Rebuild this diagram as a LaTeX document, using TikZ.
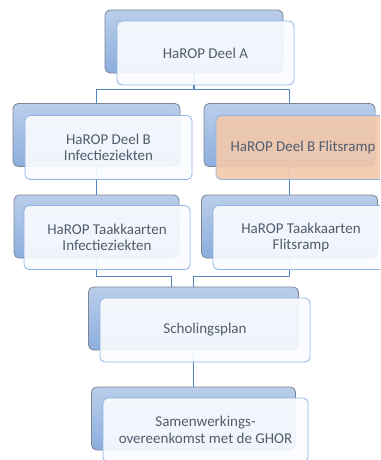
\documentclass[tikz,border=0pt]{standalone}
\usepackage{fontspec}
\setmainfont{Carlito}
\definecolor{harop_top}{RGB}{186, 206, 235}
\definecolor{harop_bottom}{RGB}{140, 174, 221}
\definecolor{harop_rim}{RGB}{125, 134, 148}
\definecolor{harop_edge}{RGB}{141, 180, 226}
\definecolor{harop_card}{RGB}{250, 252, 255}
\definecolor{harop_flash}{RGB}{243, 201, 172}
\definecolor{harop_line}{RGB}{84, 134, 196}
\definecolor{harop_text}{RGB}{82, 92, 110}
\usetikzlibrary{calc}

\begin{document}
\begin{tikzpicture}[x=1pt, y=-1pt, font=\fontsize{15}{16.5}\selectfont,
            back/.style={draw=harop_rim, line width=0.8pt, rounded corners=5pt,
                         top color=harop_top, bottom color=harop_bottom,
                         minimum height=63pt, inner sep=0pt},
            card/.style={draw=harop_edge, line width=0.8pt, rounded corners=5pt,
                         fill=harop_card, fill opacity=0.91, text opacity=1,
                         text=harop_text, align=center,
                         minimum height=64pt, inner sep=0pt},
            link/.style={draw=harop_line, line width=1.5pt}]
            \useasboundingbox (0,0) rectangle (380,460);
            \clip (0,0) rectangle (380,460);
            \node[back, minimum width=178pt] (bA) at (194,41.5) {};
            \node[back, minimum width=167pt] (bB1) at (96.5,135) {};
            \node[back, minimum width=171pt] (bB2) at (289.5,135) {};
            \node[back, minimum width=165pt] (bC1) at (96.5,226.5) {};
            \node[back, minimum width=176pt] (bC2) at (289.5,226.5) {};
            \node[back, minimum width=210pt] (bD) at (193.5,318.5) {};
            \node[back, minimum width=204pt] (bE) at (193.5,418.5) {};
            \draw[link] (bA.south) -- ++(0,16) -| (bB1.north);
            \draw[link] (bA.south) -- ++(0,16) -| (bB2.north);
            \draw[link] (bB1.south) -- (bC1.north);
            \draw[link] (bB2.south) -- (bC2.north);
            \draw[link] (bC1.south) -- ++(0,18) -| ([xshift=-22pt]bD.north);
            \draw[link] (bC2.south) -- ++(0,18) -| (bD.north);
            \draw[link] (bD.south) -- (bE.north);
            \node[card, minimum width=177pt] (fA) at (205.5,53)
              {HaROP Deel A};
            \node[card, minimum width=167pt] (fB1) at (108.5,147.5)
              {HaROP Deel B\\Infectieziekten};
            \node[card, minimum width=174pt, fill=harop_flash] (fB2) at (303,147.5)
              {HaROP Deel B Flitsramp};
            \node[card, minimum width=166pt] (fC1) at (107,237.5)
              {HaROP Taakkaarten\\Infectieziekten};
            \node[card, minimum width=176pt] (fC2) at (301,237.5)
              {HaROP Taakkaarten\\Flitsramp};
            \node[card, minimum width=210pt] (fD) at (205,330)
              {Scholingsplan};
            \node[card, minimum width=205pt] (fE) at (205.5,430)
              {Samenwerkings-\\overeenkomst met de GHOR};
          \end{tikzpicture}
\end{document}
